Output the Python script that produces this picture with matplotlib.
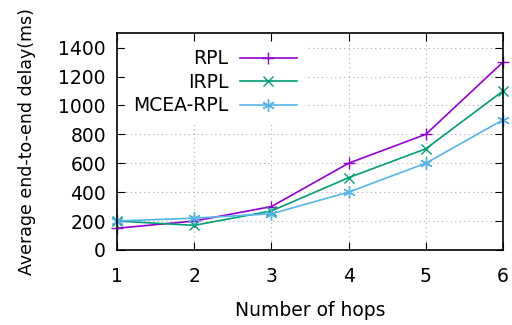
import matplotlib
matplotlib.use("Agg")
import matplotlib.pyplot as plt

hops = [1, 2, 3, 4, 5, 6]
rpl = [150, 200, 300, 600, 800, 1300]
irpl = [200, 170, 270, 500, 700, 1100]
mcea = [200, 220, 250, 400, 600, 900]

plt.rcParams['font.family'] = ['DejaVu Sans']

fig = plt.figure(figsize=(5.12, 3.25), dpi=100)
ax = fig.add_axes([0.2285, 0.231, 0.754, 0.667])

ax.plot(hops, rpl, color='#9400d3', marker='+', markersize=9, lw=1.2, label='RPL', clip_on=False)
ax.plot(hops, irpl, color='#009e73', marker='x', markersize=7, lw=1.2, label='IRPL', clip_on=False)
ax.plot(hops, mcea, color='#56b4e9', marker=(6, 2, 0), markersize=9, lw=1.2, label='MCEA-RPL', clip_on=False)

ax.set_xlim(1, 6)
ax.set_ylim(0, 1500)
ax.set_xticks(hops)
ax.set_yticks(range(0, 1401, 200))
ax.tick_params(direction='in', top=True, right=True, length=6, labelsize=13.5)
ax.tick_params(axis='y', pad=8)
ax.tick_params(axis='x', pad=12)
ax.grid(True, linestyle=(0, (1, 3)), color='#aaaaaa', linewidth=0.8)

ax.set_xlabel('Number of hops', fontsize=13.5, labelpad=11)
ax.set_ylabel('Average end-to-end delay(ms)', fontsize=12.5, labelpad=16)

# legend: text on the left, right-aligned, no visible frame
leg = ax.legend(loc='upper left', markerfirst=False, frameon=True, fontsize=13.5,
                handlelength=3.0, handletextpad=0.65, borderaxespad=0.45,
                labelspacing=0.25, edgecolor='white', framealpha=1, fancybox=False)
for t in leg.get_texts():
    t.set_ha('right')

for s in ax.spines.values():
    s.set_linewidth(1.2)

fig.savefig('out.png', dpi=100)
